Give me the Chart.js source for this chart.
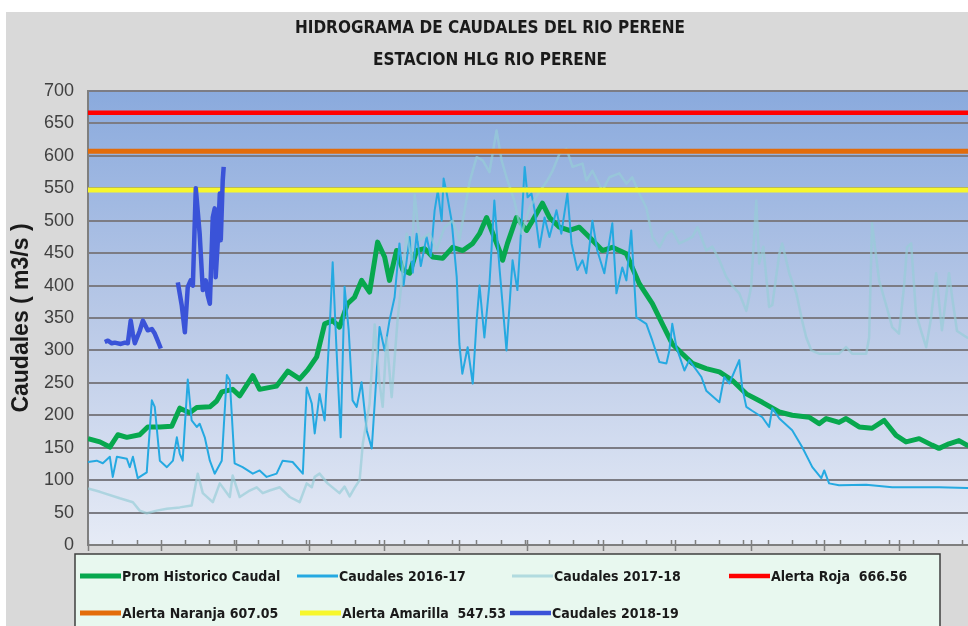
<!DOCTYPE html>
<html>
<head>
<meta charset="utf-8">
<title>Hidrograma de caudales del Rio Perene</title>
<script src="https://cdn.jsdelivr.net/npm/chart.js@4.4.0/dist/chart.umd.min.js"></script>
<style>
    html, body { margin: 0; padding: 0; background: #fff; overflow: hidden; width: 968px; height: 626px; }
    #wrap { position: absolute; left: 6px; top: 12px; width: 970px; height: 614px; background: #d9d9d9; }
</style>
</head>
<body>
<div id="wrap"><canvas id="hidroChart"></canvas></div>
<script>
// ── Data (x = day of the hydrological year, 0 = 1 Sep) ─────────
const promDays = [0, 4.9, 9, 12.3, 16, 21.3, 24.6, 29.6, 34.5, 37.8, 41.9, 44.8, 50.2, 53, 55.1, 59.6, 62.5, 67.9, 70.7, 77.7,
    82.3, 87.2, 90.5, 94.2, 97.5, 100.8, 103.6, 106.9, 109.8, 112.7, 116, 119.3, 122.2, 124.2, 127.1, 129.7, 132.5, 135.4, 138.7, 142,
    146.1, 150.2, 154.4, 158.5, 161.3, 164.2, 169.5, 170.8, 172.8, 176.5, 180.7, 183.1, 187.2, 190.1, 194.2, 198.3, 202.4, 206.5, 211.9, 216,
    221.8, 224.2, 227.1, 232.5, 236.6, 240.7, 244.8, 249, 254.7, 260.1, 265.4, 271.2, 277.8, 284.8, 290.1, 297.1, 301.2, 304.1, 309.4, 312.3,
    317.7, 323, 328, 332.9, 337, 342.4, 347.7, 350.6, 354.7, 358.8, 362.1, 365];
const promVals = [164, 159, 151, 170, 166, 170, 182, 182, 183, 211, 204, 212, 213, 222, 236, 240, 230, 261, 240, 245,
    268, 256, 270, 290, 341, 346, 336, 372, 382, 408, 390, 467, 444, 408, 454, 424, 419, 454, 457, 444,
    442, 459, 454, 465, 480, 505, 454, 439, 465, 505, 485, 500, 527, 505, 490, 485, 490, 475, 454, 459,
    449, 428, 403, 372, 341, 310, 295, 280, 272, 267, 254, 233, 220, 205, 200, 197, 187, 195, 189, 195,
    182, 180, 192, 169, 159, 164, 154, 149, 156, 161, 154, 152];

const c1617Days = [0, 3.6, 6.1, 9, 10.2, 11.9, 16, 17.2, 18.5, 20.5, 24.2, 26.3, 27.5, 29.6, 32.5, 35, 36.6, 37.8, 39, 41.1,
    42.7, 44.8, 46, 48.1, 50.2, 52.2, 55.1, 57.2, 58.4, 60.4, 63.7, 67.9, 70.7, 73.6, 77.7, 80.2, 84.3, 88.5, 90.1, 92.2,
    93.4, 95.4, 97.5, 99.5, 100.8, 102.4, 104.1, 105.7, 107.4, 109, 110.7, 112.7, 114.8, 116.9, 118.1, 120.1, 122.2, 124.2, 126.3, 128.3,
    130, 132.5, 133.8, 135.4, 137.1, 139.5, 141.2, 142.8, 144.1, 145.7, 146.5, 147.8, 149.8, 151.9, 153, 154.2, 156.4, 158.5, 160.1, 161.3,
    163.3, 165.4, 167.4, 169.5, 172.4, 174.9, 176.9, 178.6, 179.9, 181.1, 182.7, 184, 186, 188.1, 190.1, 193, 195, 197.5, 199.2, 201.6,
    203.7, 205.3, 207.8, 209.8, 212.7, 216, 217.7, 220.1, 221.8, 223.8, 225.9, 230, 232.5, 235.4, 238.3, 239.5, 240.7, 242.4, 245.7, 247.7,
    252.7, 254.7, 260.1, 262.1, 264.2, 268.3, 269.5, 271.2, 273.6, 277.8, 280.6, 281.9, 284.8, 290.1, 294.2, 298.4, 302.1, 303.3, 305.3, 309.4,
    320.6, 331.3, 350.6, 362.1, 365];
const c1617Vals = [128, 130, 126, 136, 105, 136, 133, 120, 136, 103, 112, 223, 213, 130, 120, 130, 166, 141, 130, 255,
    192, 182, 187, 166, 130, 110, 130, 262, 254, 126, 120, 110, 115, 105, 110, 130, 128, 110, 243, 218,
    172, 233, 192, 330, 436, 300, 166, 398, 331, 223, 213, 251, 177, 149, 218, 336, 300, 346, 382, 465,
    400, 475, 420, 480, 430, 475, 445, 516, 546, 500, 565, 542, 500, 413, 310, 264, 305, 249, 346, 400,
    320, 403, 531, 428, 300, 439, 393, 496, 583, 536, 542, 516, 459, 505, 475, 516, 480, 542, 465, 424,
    439, 419, 500, 454, 419, 496, 388, 428, 408, 485, 351, 341, 315, 282, 280, 300, 341, 305, 269, 285,
    259, 238, 220, 259, 249, 285, 243, 213, 207, 197, 182, 211, 195, 177, 151, 120, 103, 115, 95, 92,
    93, 89, 89, 88, 88];

const c1718Days = [0, 4.9, 13.1, 18.5, 21.3, 24.2, 28.3, 32.5, 37.8, 42.7, 45.2, 47.3, 51.4, 54.3, 58.4, 59.6, 62.5, 66.6, 69.5, 72,
    74.8, 79, 83.1, 87.2, 90.1, 92.2, 93.4, 95.4, 98.7, 103.6, 105.7, 107.8, 109.8, 111.9, 113.2, 116, 118.1, 120.1, 121.4, 123,
    125.1, 127.5, 129.7, 131.3, 133.4, 134.6, 136.6, 140.7, 143.6, 146.9, 150.2, 153, 157.2, 160.1, 162.6, 165.4, 168.3, 170.4, 172.4, 175.7,
    178.6, 181.9, 186, 188.9, 191.4, 194.2, 197.1, 199.6, 203.7, 205.3, 207.8, 211.9, 214.8, 218.9, 221.8, 224.2, 227.1, 230, 232.5, 235.4,
    238.3, 240.7, 243.6, 246.5, 249, 251.1, 254.7, 257.2, 260.1, 263, 265.4, 268.3, 271.2, 273.2, 275.3, 276.5, 278.2, 280.6, 281.9, 284.8,
    286, 288.9, 291.8, 294.2, 295.9, 298, 301.2, 309.4, 312.3, 314.8, 320.6, 321.8, 323, 325.9, 328.8, 331.3, 334.1, 336.2, 337.4, 339.1,
    341.1, 343.2, 345.3, 347.3, 349.4, 351.8, 354.7, 356, 358, 362.1, 365];
const c1718Vals = [87, 82, 72, 66, 53, 49, 53, 56, 58, 61, 110, 80, 66, 95, 74, 107, 74, 84, 89, 80,
    84, 89, 74, 66, 95, 89, 105, 110, 95, 80, 90, 75, 88, 100, 156, 218, 340, 250, 213, 320,
    228, 346, 424, 480, 440, 540, 470, 480, 455, 490, 500, 470, 560, 598, 593, 575, 639, 593, 567, 530,
    480, 520, 545, 560, 577, 603, 611, 583, 588, 562, 577, 546, 567, 573, 557, 567, 542, 520, 475, 459,
    480, 485, 465, 470, 475, 490, 454, 460, 439, 413, 400, 388, 361, 398, 531, 434, 460, 367, 370, 449,
    465, 419, 388, 346, 320, 300, 295, 295, 305, 295, 295, 320, 496, 408, 370, 336, 326, 400, 459, 465,
    357, 330, 305, 350, 419, 331, 419, 382, 330, 320, 318];

// 2018-19 has a gap in the record (null breaks the line)
const c1819Days = [6.9, 8.2, 9.8, 11, 13.5, 15.2, 16.4, 17.6, 18.5, 19.3, 21.3, 22.6, 24.6, 26.3, 27.5, 28.7, 30, 33,
    37, 38.6, 39.9, 41.1, 42.3, 43.2, 44.4, 46, 47.3, 48.5, 49.3, 50.2, 51.4, 52.2, 52.6, 53.5, 54.3, 54.7, 55.5, 55.9];
const c1819Vals = [313, 315, 311, 312, 310, 312, 311, 346, 325, 311, 330, 346, 331, 333, 326, 315, 303, null,
    405, 370, 328, 398, 408, 400, 550, 480, 393, 408, 385, 372, 505, 519, 413, 470, 542, 470, 562, 583];

const alertaRoja     = 666.56;
const alertaNaranja  = 607.05;
const alertaAmarilla = 547.53;

const yTicks      = { min: 0, max: 700, step: 50 };
const minorTicks  = [0, 10, 20, 30, 40, 50, 60, 70, 80, 90, 100, 110, 120, 130, 140, 150, 160, 170, 180,
    190, 200, 210, 220, 230, 240, 250, 260, 270, 280, 290, 300, 310, 320, 330, 340, 350, 360];
const monthStarts = [0, 30, 61, 91, 122, 153, 181, 212, 242, 273, 303, 334, 365];

// ── Helpers ────────────────────────────────────────────────────
const NARROW = "'Liberation Sans Narrow', 'DejaVu Sans Condensed', 'Arial Narrow', sans-serif";
const toPoints = (days, vals) => days.map((d, i) => ({ x: d, y: vals[i] }));
const flatLine = v => [{ x: 0, y: v }, { x: 365, y: v }];

function lineSet(label, data, color, width, order) {
    return {
        label, data, order,
        borderColor: color,
        backgroundColor: color,
        borderWidth: width,
        pointRadius: 0,
        tension: 0,
        fill: false,
        spanGaps: false,
        borderJoinStyle: 'round',
        borderCapStyle: 'butt'
    };
}

// ── Plugins ────────────────────────────────────────────────────
const plotBackground = {
    id: 'plotBackground',
    beforeDraw(chart) {
        const { ctx, chartArea: a } = chart;
        const g = ctx.createLinearGradient(0, a.top, 0, a.bottom);
        g.addColorStop(0, '#8aaadd');
        g.addColorStop(0.5, '#b9c9e7');
        g.addColorStop(1, '#e6ebf6');
        ctx.save();
        ctx.fillStyle = g;
        ctx.fillRect(a.left, a.top, a.right - a.left, a.bottom - a.top);
        ctx.restore();
    }
};

const axisTicks = {
    id: 'axisTicks',
    afterDraw(chart) {
        const { ctx, chartArea: a, scales: { x } } = chart;
        ctx.save();
        ctx.strokeStyle = '#7f7f7f';
        ctx.lineWidth = 1.5;
        ctx.beginPath();
        minorTicks.forEach(d => {
            const px = Math.round(x.getPixelForValue(d)) + 0.5;
            ctx.moveTo(px, a.bottom - 5);
            ctx.lineTo(px, a.bottom);
        });
        monthStarts.forEach(d => {
            const px = Math.round(x.getPixelForValue(d)) + 0.5;
            ctx.moveTo(px, a.bottom - 5);
            ctx.lineTo(px, a.bottom + 6);
        });
        ctx.stroke();
        ctx.restore();
    }
};

// legend slots: [dataset index, marker x, row y]
const legendSlots = [[0, 74, 564], [1, 291, 564], [2, 506, 564], [3, 723, 564],
                     [4, 74, 601], [5, 294, 601], [6, 504, 601]];

const boxLegend = {
    id: 'boxLegend',
    afterDraw(chart) {
        const { ctx } = chart;
        ctx.save();
        ctx.fillStyle = '#e8f8ef';
        ctx.strokeStyle = '#3f3f3f';
        ctx.lineWidth = 1.5;
        ctx.fillRect(69, 542, 865, 100);
        ctx.strokeRect(69, 542, 865, 100);

        ctx.font = "bold 14px " + NARROW;
        ctx.textBaseline = 'middle';
        ctx.fillStyle = '#1a1a1a';
        legendSlots.forEach(([i, mx, my]) => {
            const ds = chart.data.datasets[i];
            ctx.strokeStyle = ds.borderColor;
            ctx.lineWidth = Math.max(3, ds.borderWidth);
            ctx.beginPath();
            ctx.moveTo(mx, my);
            ctx.lineTo(mx + 41, my);
            ctx.stroke();
            ctx.fillText(ds.label, mx + 42, my + 1);
        });
        ctx.restore();
    }
};

// ── Chart ──────────────────────────────────────────────────────
const hidroChart = new Chart(document.getElementById('hidroChart'), {
    type: 'line',
    data: {
        datasets: [
            lineSet('Prom Historico Caudal', toPoints(promDays, promVals), '#07a84e', 5, 7),
            lineSet('Caudales 2016-17', toPoints(c1617Days, c1617Vals), '#25a9e1', 2, 6),
            lineSet('Caudales 2017-18', toPoints(c1718Days, c1718Vals), 'rgba(150,205,215,0.68)', 2.5, 5),
            lineSet('Alerta Roja  ' + alertaRoja.toFixed(2), flatLine(alertaRoja), '#ff0000', 4.5, 4),
            lineSet('Alerta Naranja ' + alertaNaranja.toFixed(2), flatLine(alertaNaranja), '#e36c0a', 5, 3),
            lineSet('Alerta Amarilla  ' + alertaAmarilla.toFixed(2), flatLine(alertaAmarilla), '#f7f72c', 5, 2),
            lineSet('Caudales 2018-19', toPoints(c1819Days, c1819Vals), '#3a53d8', 4.5, 1)
        ]
    },
    options: {
        responsive: true,
        maintainAspectRatio: false,
        animation: false,
        layout: { padding: { left: 0, right: 2, top: 0, bottom: 71 } },
        plugins: {
            legend:  { display: false },
            tooltip: { enabled: false },
            title: {
                display: true,
                text: ['HIDROGRAMA DE CAUDALES DEL RIO PERENE', 'ESTACION HLG RIO PERENE'],
                color: '#1a1a1a',
                font: { family: NARROW, size: 17, weight: 'bold', lineHeight: 32 / 17 },
                padding: { top: 1, bottom: 14 }
            }
        },
        scales: {
            x: {
                type: 'linear',
                min: 0,
                max: 365,
                ticks: { display: false },
                grid:  { display: false },
                border: { display: true, color: '#7f7f7f', width: 2 },
                afterFit: s => { s.height = 10; }
            },
            y: {
                min: yTicks.min,
                max: yTicks.max,
                ticks: {
                    stepSize: yTicks.step,
                    color: '#404040',
                    padding: 14,
                    font: { family: "'Liberation Sans', Arial, sans-serif", size: 18 }
                },
                grid:   { color: '#7c7c84', lineWidth: 2, drawTicks: false },
                border: { display: true, color: '#7f7f7f', width: 2 },
                title: {
                    display: true,
                    text: 'Caudales ( m3/s )',
                    color: '#1a1a1a',
                    font: { family: "'Liberation Sans', Arial, sans-serif", size: 23, weight: 'bold' },
                    padding: { top: 2, bottom: 0 }
                },
                afterFit: s => { s.width = 82; }
            }
        }
    },
    plugins: [plotBackground, axisTicks, boxLegend]
});
</script>
</body>
</html>
